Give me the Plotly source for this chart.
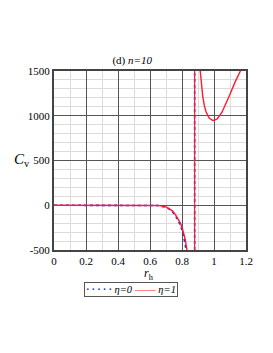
import plotly.graph_objects as go

# eta = 0 (blue dotted), left branch
x_eta0_left = [0.0, 0.1, 0.2, 0.3, 0.4, 0.5, 0.6, 0.65, 0.7, 0.72, 0.74, 0.76, 0.78, 0.79, 0.8, 0.81, 0.82, 0.826]
y_eta0_left = [0, 0, 0, 0, 0, 0, 0, -3, -22, -42, -72, -120, -185, -225, -275, -345, -430, -500]
# eta = 1 (red solid), left branch
x_eta1_left = [0.0, 0.1, 0.2, 0.3, 0.4, 0.5, 0.6, 0.65, 0.7, 0.72, 0.74, 0.76, 0.78, 0.79, 0.8, 0.81, 0.82, 0.827, 0.831]
y_eta1_left = [0, 0, 0, 0, 0, 0, 0, -2, -18, -36, -62, -108, -165, -200, -245, -305, -380, -460, -500]
# vertical asymptote (both series)
x_asym = [0.879, 0.879]
y_asym = [-500, 1500]
# eta = 1, right branch
x_eta1_right = [0.914, 0.92, 0.93, 0.94, 0.95, 0.97, 0.99, 1.0, 1.02, 1.05, 1.08, 1.1, 1.13, 1.15, 1.165]
y_eta1_right = [1500, 1370, 1210, 1110, 1045, 975, 950, 948, 965, 1040, 1150, 1240, 1370, 1450, 1500]

x_ticks = [0, 0.2, 0.4, 0.6, 0.8, 1.0, 1.2]
x_ticktext = ["0", "0.2", "0.4", "0.6", "0.8", "1", "1.2"]
y_ticks = [-500, 0, 500, 1000, 1500]
y_ticktext = ["-500", "0", "500", "1000", "1500"]

BLUE = "#1f1fff"
RED = "#ff1a2e"
FONT = "Liberation Serif"

fig = go.Figure()
fig.add_trace(go.Scatter(x=x_eta0_left, y=y_eta0_left, mode="lines", name="η=0",
                         line=dict(color=BLUE, width=1.6, dash="dot")))
fig.add_trace(go.Scatter(x=x_asym, y=y_asym, mode="lines", name="η=0",
                         line=dict(color=BLUE, width=1.6, dash="dot")))
fig.add_trace(go.Scatter(x=x_eta1_left, y=y_eta1_left, mode="lines", name="η=1",
                         line=dict(color=RED, width=1.4)))
fig.add_trace(go.Scatter(x=x_asym, y=y_asym, mode="lines", name="η=1",
                         line=dict(color=RED, width=1.2)))
fig.add_trace(go.Scatter(x=x_eta1_right, y=y_eta1_right, mode="lines", name="η=1",
                         line=dict(color=RED, width=1.4)))

fig.update_layout(
    width=257, height=337,
    margin=dict(l=46, r=17, t=63, b=95),
    paper_bgcolor="white", plot_bgcolor="white",
    font=dict(family=FONT, size=11, color="black"),
    showlegend=False,
    title=dict(text="(d) <i>n=10</i>", xref="paper", x=0.407, xanchor="center",
               yref="container", y=0.846, yanchor="middle",
               font=dict(size=11, family=FONT)),
    xaxis=dict(range=[0, 1.2], tickvals=x_ticks, ticktext=x_ticktext,
               showgrid=True, gridcolor="#555", gridwidth=1,
               minor=dict(dtick=0.1, showgrid=True, gridcolor="#dcdcdc", gridwidth=1),
               zeroline=False, showline=True, linecolor="#444", linewidth=2, mirror=True,
               ticks=""),
    yaxis=dict(range=[-500, 1500], tickvals=y_ticks, ticktext=y_ticktext,
               showgrid=True, gridcolor="#555", gridwidth=1,
               minor=dict(dtick=100, showgrid=True, gridcolor="#dcdcdc", gridwidth=1),
               zeroline=False, showline=True, linecolor="#444", linewidth=2, mirror=True,
               ticks=""),
)

# axis titles
fig.add_annotation(text="<i>C</i><sub>v</sub>", x=-0.165, y=0.503, xref="paper", yref="paper",
                   xanchor="center", yanchor="middle", showarrow=False,
                   font=dict(size=15, family=FONT))
fig.add_annotation(text="<i>r</i><sub>h</sub>", x=0.495, y=-0.133, xref="paper", yref="paper",
                   xanchor="center", yanchor="middle", showarrow=False,
                   font=dict(size=12, family=FONT), borderpad=0)
# legend box
legend_text = ("<span style='color:%s'><b>·\u2009·\u2009·\u2009·\u2009·</b></span> <i>η=0</i> "
               "<span style='color:%s'>——</span> <i>η=1</i>") % (BLUE, RED)
fig.add_annotation(text=legend_text, x=0.402, y=-0.222, xref="paper", yref="paper",
                   xanchor="center", yanchor="middle", showarrow=False,
                   bordercolor="#555", borderwidth=1, borderpad=1, bgcolor="white",
                   font=dict(size=10.5, family=FONT))

fig.write_html("out.html")
